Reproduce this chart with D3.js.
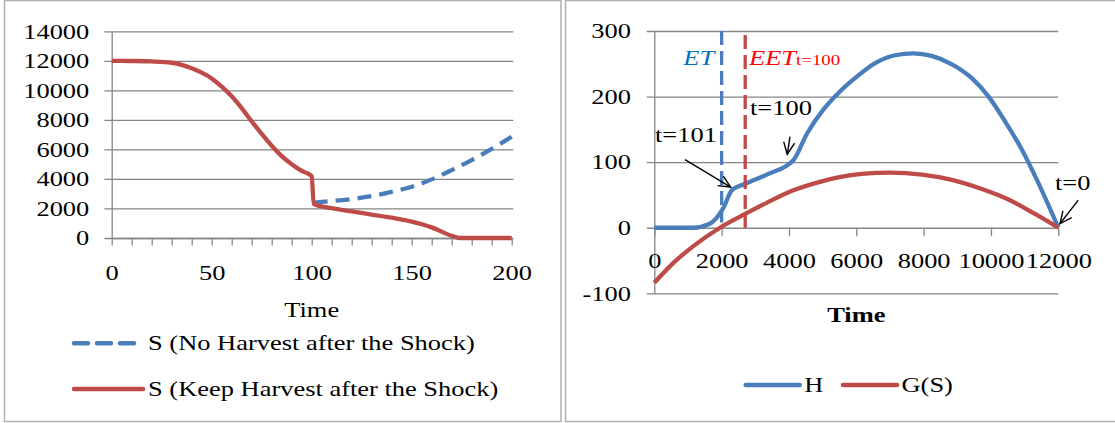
<!DOCTYPE html>
<meta charset="utf-8">
<script src="https://d3js.org/d3.v7.min.js"></script>
<style>
body {
    margin: 0;
    background: white;
}
svg {
    display: block;
}
text {
    font-family: "Liberation Serif", "Times New Roman", serif;
    font-size: 21px;
    fill: black;
}
.grid line, .grid path {
    stroke: #868686;
    stroke-width: 1.3px;
}
</style>
<body>
<svg id="chart" width="1115" height="423"></svg>
<script>
// ---- left panel: stock S over time ----
var timeKeep  = [0, 10, 20, 30, 35, 40, 45, 50, 55, 60, 65, 70, 75, 80, 85, 90, 95, 100, 101, 110, 120, 130, 140, 150, 160, 170, 174, 180, 190, 200];
var stockKeep = [12000, 11990, 11960, 11870, 11730, 11500, 11200, 10810, 10250, 9600, 8800, 7900, 7050, 6250, 5550, 5000, 4550, 4200, 2300, 2020, 1800, 1590, 1380, 1110, 720, 150, 0, 0, 0, 0];
var timeNoHarvest  = [101, 110, 120, 130, 140, 150, 160, 170, 180, 190, 200];
var stockNoHarvest = [2400, 2500, 2640, 2840, 3130, 3470, 3970, 4600, 5280, 6030, 6860];
var leftYTicks = [0, 2000, 4000, 6000, 8000, 10000, 12000, 14000];
var leftXTicks = [0, 10, 20, 30, 40, 50, 60, 70, 80, 90, 100, 110, 120, 130, 140, 150, 160, 170, 180, 190, 200];
var leftXLabels = [0, 50, 100, 150, 200];
var leftSeries = ["S (No Harvest after the Shock)", "S (Keep Harvest after the Shock)"];

// ---- right panel: H and G(S) against S ----
var stockH   = [0, 1160, 1650, 1850, 2050, 2300, 2700, 3340, 4130, 4530, 5020, 5500, 5960, 6560, 7150, 7700, 8240, 8840, 9430, 9930, 10420, 10920, 11410, 12000];
var harvestH = [0, 0, 6, 15, 30, 57, 67, 81, 103, 143, 180, 207, 228, 251, 263, 266, 262, 249, 228, 200, 162, 119, 68, 0];
var stockG   = [0, 560, 1160, 1950, 2700, 3340, 4130, 4920, 5500, 6160, 7000, 7950, 8840, 9730, 10520, 11310, 12000];
var growthG  = [-84, -54, -28, 0, 21, 38, 57, 70, 77, 82, 84, 81, 73, 59, 43, 21, 0];
var rightYTicks = [-100, 0, 100, 200, 300];
var rightXTicks = [0, 2000, 4000, 6000, 8000, 10000, 12000];
var rightSeries = ["H", "G(S)"];
var etStock = 2000, etSpan = [8, 300];
var eetStock = 2700, eetSpan = [0, 294];
// annotations in data units: [text, stock, value]
var notes = [["t=101", 21, 130], ["t=100", 2842, 172], ["t=0", 11901, 57]];
// arrows in data units: [fromStock, fromValue, toStock, toValue]
var arrows = [[912, 104, 2269, 62], [4031, 139, 3950, 112], [12593, 42, 12049, 6]];

let SX = 1.26; // the picture's text is stretched sideways
let blue = "#4a7ebb", red = "#be4b48";
let plain = d => String(d).replace("\u2212", "-");

let svg = d3.select("#chart");

svg.append("defs").append("marker")
    .attr("id", "arrow")
    .attr("markerUnits", "userSpaceOnUse")
    .attr("viewBox", "-14 -8 16 16")
    .attr("markerWidth", 16).attr("markerHeight", 16)
    .attr("orient", "auto")
  .append("path")
    .attr("d", "M-12,-5.5L0,0L-12,5.5")
    .attr("fill", "none")
    .attr("stroke", "black")
    .attr("stroke-width", 1.4);

// frames
svg.append("rect").attr("x", 4.5).attr("y", 0.5).attr("width", 556.5).attr("height", 421)
    .attr("fill", "none").attr("stroke", "#b0b0b0").attr("stroke-width", 1.5);
svg.append("rect").attr("x", 565.5).attr("y", 0.5).attr("width", 560).attr("height", 421)
    .attr("fill", "none").attr("stroke", "#b0b0b0").attr("stroke-width", 1.5);

function stretch(sel) {
    sel.attr("transform", "scale(" + SX + ",1)");
}
function label(g, txt, x, y, anchor) {
    return g.append("text")
        .attr("transform", "translate(" + x + "," + y + ") scale(" + SX + ",1)")
        .attr("text-anchor", anchor || "start")
        .text(txt);
}

// ---------- left chart ----------
let xL = d3.scaleLinear().domain([0, 200]).range([111.7, 511.7]);
let yL = d3.scaleLinear().domain([0, 14000]).range([238, 31.3]);
let gL = svg.append("g");

gL.append("g")
    .attr("class", "grid")
    .attr("transform", "translate(" + xL(0) + ",0)")
    .call(d3.axisLeft(yL).tickValues(leftYTicks).tickSize(-(513.3 - xL(0))).tickSizeOuter(0).tickFormat(plain))
    .call(g => g.selectAll(".tick line").attr("x1", -7.4))
    .call(g => g.selectAll(".tick text").attr("x", -22.4 / SX).call(stretch));

gL.append("g")
    .attr("class", "grid")
    .attr("transform", "translate(0," + yL(0) + ")")
    .call(d3.axisBottom(xL).tickValues(leftXTicks).tickSize(7.5).tickSizeOuter(0)
        .tickFormat(d => leftXLabels.includes(d) ? d : ""))
    .call(g => g.selectAll(".tick text").attr("y", 42).attr("dy", null).call(stretch));

let lineL = d3.line()
    .curve(d3.curveMonotoneX)
    .x(d => xL(d[0]))
    .y(d => yL(d[1]));

gL.append("path")
    .datum(d3.zip(timeNoHarvest, stockNoHarvest))
    .attr("d", lineL)
    .attr("fill", "none")
    .attr("stroke", blue)
    .attr("stroke-width", 4.3)
    .attr("stroke-dasharray", "14,8");

gL.append("path")
    .datum(d3.zip(timeKeep, stockKeep))
    .attr("d", lineL)
    .attr("fill", "none")
    .attr("stroke", red)
    .attr("stroke-width", 4.3)
    .attr("stroke-linejoin", "round");

label(gL, "Time", (xL(0) + xL(200)) / 2, 316.7, "middle");

let legL = gL.selectAll(".legL")
    .data(leftSeries)
    .enter().append("g")
    .attr("transform", (d, i) => "translate(0," + (343.3 + i * 45.7) + ")");
legL.append("line")
    .attr("x1", 74).attr("x2", (d, i) => i ? 143 : 134)
    .attr("stroke", (d, i) => i ? red : blue)
    .attr("stroke-width", 4.5)
    .attr("stroke-linecap", "round")
    .attr("stroke-dasharray", (d, i) => i ? null : "14,9");
legL.each(function(d) { label(d3.select(this), d, 148, 7); });

// ---------- right chart ----------
let xR = d3.scaleLinear().domain([0, 12000]).range([654.3, 1058.3]);
let yR = d3.scaleLinear().domain([-100, 300]).range([293.3, 31]);
let gR = svg.append("g");

gR.append("g")
    .attr("class", "grid")
    .attr("transform", "translate(" + xR(0) + ",0)")
    .call(d3.axisLeft(yR).tickValues(rightYTicks).tickSize(-(xR(12000) - xR(0))).tickSizeOuter(0).tickFormat(plain))
    .call(g => g.selectAll(".tick line").attr("x1", -7.6))
    .call(g => g.selectAll(".tick text").attr("x", -23.3 / SX).call(stretch));

gR.append("g")
    .attr("class", "grid")
    .attr("transform", "translate(0," + yR(0) + ")")
    .call(d3.axisBottom(xR).tickValues(rightXTicks).tickSize(8.5).tickSizeOuter(0).tickFormat(plain))
    .call(g => g.select(".domain").remove())
    .call(g => g.selectAll(".tick text").attr("y", 40.3).attr("dy", null).call(stretch));

let lineR = d3.line()
    .curve(d3.curveMonotoneX)
    .x(d => xR(d[0]))
    .y(d => yR(d[1]));

gR.append("path")
    .datum(d3.zip(stockH, harvestH))
    .attr("d", lineR)
    .attr("fill", "none")
    .attr("stroke", blue)
    .attr("stroke-width", 4.3)
    .attr("stroke-linejoin", "round");

gR.append("path")
    .datum(d3.zip(stockG, growthG))
    .attr("d", lineR)
    .attr("fill", "none")
    .attr("stroke", red)
    .attr("stroke-width", 4.3)
    .attr("stroke-linejoin", "round");

[[etStock, etSpan, blue], [eetStock, eetSpan, red]].forEach(function(v) {
    gR.append("line")
        .attr("x1", xR(v[0])).attr("x2", xR(v[0]))
        .attr("y1", yR(v[1][1])).attr("y2", yR(v[1][0]))
        .attr("stroke", v[2])
        .attr("stroke-width", 3.3)
        .attr("stroke-dasharray", "14,6");
});

label(gR, "ET", xR(861), yR(248)).attr("font-style", "italic").style("fill", "#0070c0");
let eet = label(gR, "EET", xR(2813), yR(248)).attr("font-style", "italic").style("fill", "#ff0000");
eet.append("tspan").attr("font-style", "normal").style("font-size", "15px").text("t=100");

notes.forEach(function(n) { label(gR, n[0], xR(n[1]), yR(n[2])); });

gR.selectAll(".arrow")
    .data(arrows)
    .enter().append("line")
    .attr("x1", d => xR(d[0])).attr("y1", d => yR(d[1]))
    .attr("x2", d => xR(d[2])).attr("y2", d => yR(d[3]))
    .attr("stroke", "black")
    .attr("stroke-width", 1.4)
    .attr("marker-end", "url(#arrow)");

label(gR, "Time", (xR(0) + xR(12000)) / 2, 322, "middle").attr("font-weight", "bold");

let legR = gR.selectAll(".legR")
    .data(rightSeries)
    .enter().append("g")
    .attr("transform", (d, i) => "translate(" + (745.7 + i * 97.3) + ",385)");
legR.append("line")
    .attr("x1", 0).attr("x2", 54)
    .attr("stroke", (d, i) => i ? red : blue)
    .attr("stroke-width", 4.5)
    .attr("stroke-linecap", "round");
legR.each(function(d) { label(d3.select(this), d, 58.5, 7); });
</script>
</body>
